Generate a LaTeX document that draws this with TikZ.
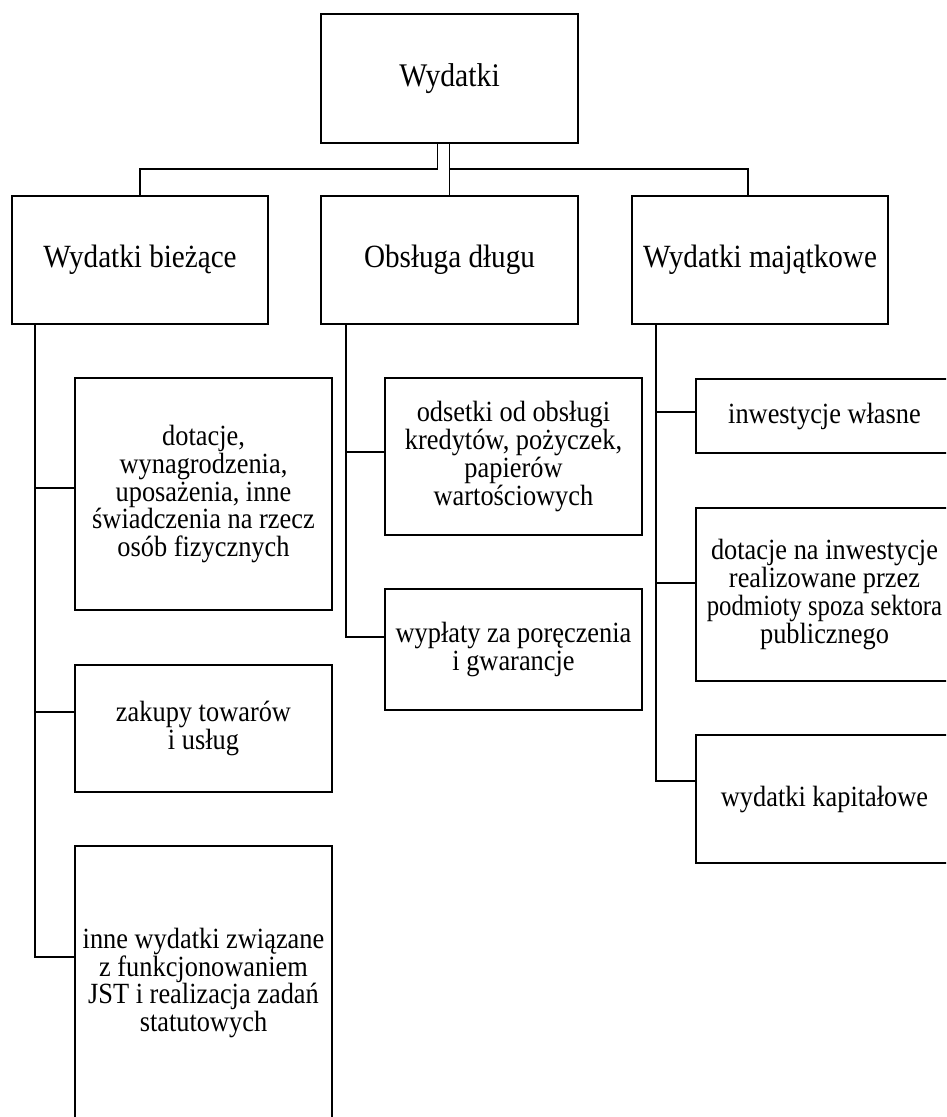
\documentclass[tikz,border=0pt]{standalone}
\usepackage{fontspec}
\setmainfont{Liberation Serif}[FakeStretch=0.9]
\begin{document}
\begin{tikzpicture}[x=1pt,y=-1pt,
  box/.style={draw, line width=1.8pt, rectangle, inner sep=0pt, align=center,
    minimum width=257pt},
  rootbox/.style={box, font=\fontsize{33}{36}\selectfont},
  headbox/.style={box, font=\fontsize{32.4}{35}\selectfont},
  leafbox/.style={box, font=\fontsize{29.3}{27.7}\selectfont},
  link/.style={line width=1.8pt}]
\useasboundingbox (0,0) rectangle (946,1117);
\clip (0,0) rectangle (946,1117);

% root
\node[rootbox, minimum height=129pt] (top) at (449.5,78.5) {Wydatki};

% second level
\node[headbox, minimum width=256pt, minimum height=128pt] (L) at (140,260) {Wydatki bieżące};
\node[headbox, minimum height=128pt] (M) at (449.5,260) {Obsługa długu};
\node[headbox, minimum width=256pt, minimum height=128pt] (R) at (760,260) {Wydatki majątkowe};

% current expenditure
\node[leafbox, minimum height=232pt] (l1) at (203.5,494)
  {dotacje,\\ wynagrodzenia,\\ uposażenia, inne\\ świadczenia na rzecz\\ osób fizycznych};
\node[leafbox, minimum height=127pt] (l2) at (203.5,728.5) {zakupy towarów\\ i usług};
\node[leafbox, minimum height=274pt] (l3) at (203.5,983)
  {inne wydatki związane\\ z funkcjonowaniem\\ JST i realizacja zadań\\ statutowych};

% debt service
\node[leafbox, minimum height=157pt] (m1) at (513.5,456.5)
  {odsetki od obsługi\\ kredytów, pożyczek,\\ papierów\\ wartościowych};
\node[leafbox, minimum height=121pt] (m2) at (513.5,649.5) {wypłaty za poręczenia\\ i gwarancje};

% capital expenditure
\node[leafbox, minimum height=74pt] (r1) at (824.5,416) {inwestycje własne};
\node[leafbox, minimum height=173pt] (r2) at (824.5,594.5)
  {dotacje na inwestycje\\ realizowane przez\\ \scalebox{0.94}[1]{podmioty spoza sektora}\\ publicznego};
\node[leafbox, minimum height=128pt] (r3) at (824.5,799) {wydatki kapitałowe};

% root to second level
\draw[link] ([xshift=-12pt]top.south) -- ++(0,24.7) -| (L.north);
\draw[link] (top.south) -- (M.north);
\draw[link] ([yshift=-24.7pt]top.south) -| ([xshift=-12pt]R.north);

% trunks and branches
\draw[link] ([xshift=24pt]L.south west) |- ([yshift=6.3pt]l1.west);
\draw[link] ([xshift=24pt]L.south west) |- ([yshift=16.5pt]l2.west);
\draw[link] ([xshift=24pt]L.south west) |- ([yshift=26pt]l3.west);

\draw[link] ([xshift=26pt]M.south west) |- ([yshift=4.8pt]m1.west);
\draw[link] ([xshift=26pt]M.south west) |- ([yshift=12.5pt]m2.west);

\draw[link] ([xshift=25pt]R.south west) |- ([yshift=4pt]r1.west);
\draw[link] ([xshift=25pt]R.south west) |- ([yshift=11.5pt]r2.west);
\draw[link] ([xshift=25pt]R.south west) |- ([yshift=18pt]r3.west);
\end{tikzpicture}
\end{document}
